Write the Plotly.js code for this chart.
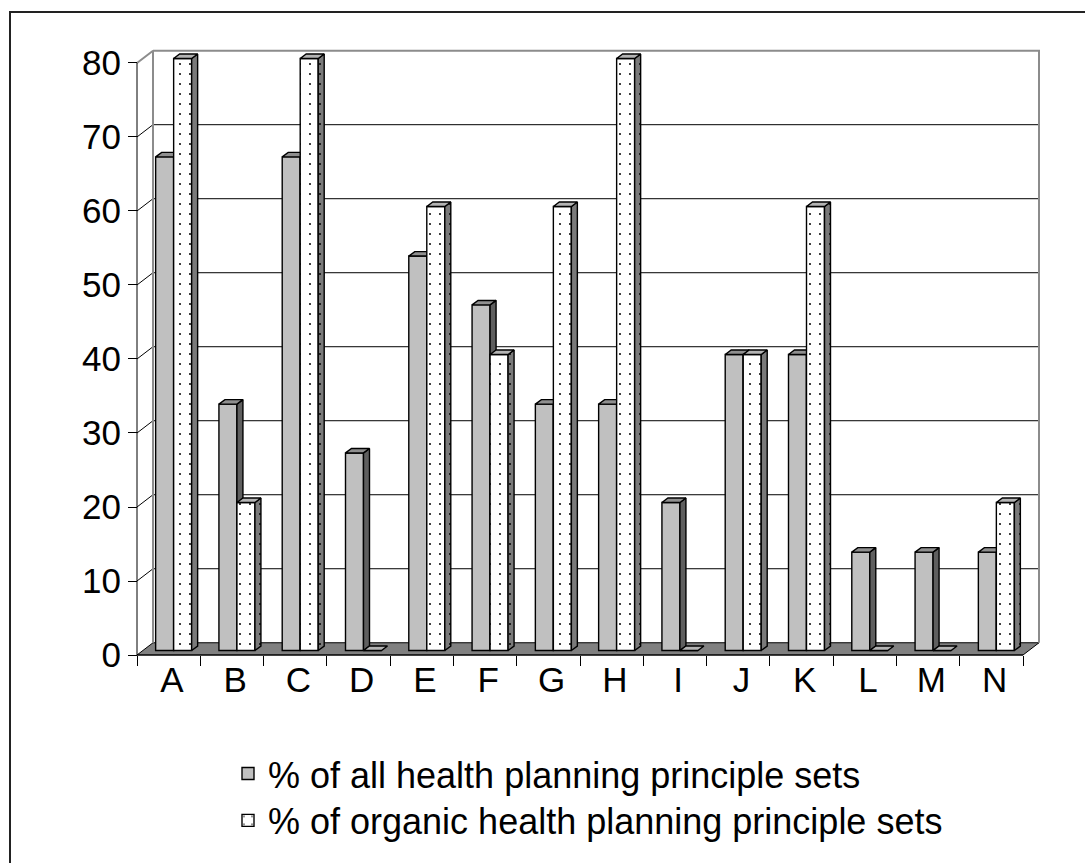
<!DOCTYPE html>
<html>
<head>
<meta charset="utf-8">
<script src="https://cdn.plot.ly/plotly-3.0.1.min.js"></script>
<style>
  html, body { margin: 0; padding: 0; background: #ffffff; }
  #chart { width: 1085px; height: 863px; }
</style>
</head>
<body>
<div id="chart"></div>
<script>
// ---------------- data ----------------
const categories = ['A', 'B', 'C', 'D', 'E', 'F', 'G', 'H', 'I', 'J', 'K', 'L', 'M', 'N'];
const allSets = [66.7, 33.3, 66.7, 26.7, 53.3, 46.7, 33.3, 33.3, 20, 40, 40, 13.3, 13.3, 13.3];
const organicSets = [80, 20, 80, 0, 60, 40, 60, 80, 0, 40, 60, 0, 0, 20];
const yTicks = [0, 10, 20, 30, 40, 50, 60, 70, 80];
const seriesNames = ['% of all health planning principle sets', '% of organic health planning principle sets'];

// ---------------- geometry (pixels -> axis units) ----------------
const W = 1085, H = 863;
const FRONT_L = 137, FRONT_R = 1023, FRONT_Y0 = 657, FRONT_YTOP = 63;
const n = categories.length;
const yMaxVal = 80;
const xu = (FRONT_R - FRONT_L) / n;            // px per category
const yu = (FRONT_Y0 - FRONT_YTOP) / yMaxVal;  // px per value unit
const padL = 2, padR = 20, padT = 14, padB = 3;
const xmin = -0.5 - padL / xu, xmax = n - 0.5 + padR / xu;
const ymin = -padB / yu, ymax = yMaxVal + padT / yu;
const mL = FRONT_L - padL, mR = W - (FRONT_R + padR), mT = FRONT_YTOP - padT, mB = H - (FRONT_Y0 + padB);
const plotW = W - mL - mR, plotH = H - mT - mB;

const WDX = 16 / xu, WDY = 12.3 / yu;   // back wall depth
const BDX = 5 / xu, BDY = 4.5 / yu;     // bar front plane offset
const DDX = 6 / xu, DDY = 4.5 / yu;     // bar depth
const BW = 18 / xu;                      // bar width

const FONT = 'Liberation Sans, Arial, sans-serif';
const TICK_FONT = 35, LEGEND_FONT = 36;

// ---------------- wall & floor ----------------
const x0 = -0.5, x1 = n - 0.5;
const floor = {
  x: [x0, x1, x1 + WDX, x0 + WDX, x0], y: [0, 0, WDY, WDY, 0],
  xaxis: 'x', yaxis: 'y', type: 'scatter', mode: 'lines', fill: 'toself',
  fillcolor: '#808080', line: { color: '#000', width: 1 }, showlegend: false, hoverinfo: 'skip'
};
const gx = [], gy = [];
yTicks.filter(v => v > 0 && v < yMaxVal).forEach(v => {
  gx.push(x0, x0 + WDX, x1 + WDX, null);
  gy.push(v, v + WDY, v + WDY, null);
});
const grid = {
  x: gx, y: gy, xaxis: 'x', yaxis: 'y', type: 'scatter', mode: 'lines',
  line: { color: '#000', width: 1 }, showlegend: false, hoverinfo: 'skip'
};
const wallBorder = {
  x: [x0, x0 + WDX, x0 + WDX, null, x0 + WDX, x1 + WDX, x1 + WDX],
  y: [yMaxVal, yMaxVal + WDY, WDY, null, yMaxVal + WDY, yMaxVal + WDY, WDY],
  xaxis: 'x', yaxis: 'y', type: 'scatter', mode: 'lines',
  line: { color: '#8c8c8c', width: 2 }, showlegend: false, hoverinfo: 'skip'
};
const frontAxis = {
  x: [x0, x0, x1], y: [yMaxVal, 0, 0], xaxis: 'x', yaxis: 'y', type: 'scatter', mode: 'lines',
  line: { color: '#000', width: 1 }, showlegend: false, hoverinfo: 'skip'
};

// ---------------- bars ----------------
function faces(values, left) {
  const sx = [], sy = [], tx = [], ty = [];
  values.forEach((v, i) => {
    const xl = i + BDX + left, xr = xl + BW, b = BDY, t = b + v;
    if (v > 0) {
      sx.push(xr, xr + DDX, xr + DDX, xr, xr, null);
      sy.push(b, b + DDY, t + DDY, t, b, null);
    }
    tx.push(xl, xl + DDX, xr + DDX, xr, xl, null);
    ty.push(t, t + DDY, t + DDY, t, t, null);
  });
  return { sx, sy, tx, ty };
}
const xs = categories.map((c, i) => i + BDX);

function seriesTraces(values, left, ax, ay, name, legendId, front, side, top, dotted) {
  const f = faces(values, left);
  const pattern = dotted ? { shape: '.', fgcolor: '#000', bgcolor: front, size: 10, solidity: 0.03 } : undefined;
  const bar = {
    type: 'bar', x: xs, y: values, base: BDY, offset: left, width: BW,
    xaxis: ax, yaxis: ay, name: name, legend: legendId,
    marker: { color: front, line: { color: '#000', width: 1.4 }, pattern: pattern },
    hoverinfo: 'skip'
  };
  const sideTr = {
    type: 'scatter', x: f.sx, y: f.sy, xaxis: ax, yaxis: ay, mode: 'lines', fill: 'toself',
    fillcolor: side, line: { color: '#000', width: 1.4 }, showlegend: false, hoverinfo: 'skip'
  };
  if (dotted) sideTr.fillpattern = { shape: '.', fgcolor: '#000', bgcolor: side, size: 10, solidity: 0.03 };
  const topTr = {
    type: 'scatter', x: f.tx, y: f.ty, xaxis: ax, yaxis: ay, mode: 'lines', fill: 'toself',
    fillcolor: top, line: { color: '#000', width: 1.4 }, showlegend: false, hoverinfo: 'skip'
  };
  return [bar, sideTr, topTr];
}

const grayTraces = seriesTraces(allSets, -BW, 'x2', 'y2', seriesNames[0], 'legend', '#c0c0c0', '#5f5f5f', '#8f8f8f', false);
const dotTraces = seriesTraces(organicSets, 0, 'x3', 'y3', seriesNames[1], 'legend2', '#ffffff', '#7a7a7a', '#b4b4b4', true);

const data = [floor, grid, wallBorder, frontAxis, ...grayTraces, ...dotTraces];

// ---------------- layout ----------------
const xPosPaper = (0 - ymin) / (ymax - ymin);
const yPosPaper = (x0 - xmin) / (xmax - xmin);
const hidden = { range: [xmin, xmax], visible: false, fixedrange: true };
const px2x = p => (p - mL) / plotW;
const px2y = p => (H - mB - p) / plotH;
const legendBase = {
  xanchor: 'left', yanchor: 'middle', orientation: 'v',
  bgcolor: 'rgba(0,0,0,0)', borderwidth: 0,
  font: { size: LEGEND_FONT, family: FONT, color: '#000' }
};

const layout = {
  width: W, height: H,
  margin: { l: mL, r: mR, t: mT, b: mB, pad: 0 },
  paper_bgcolor: '#ffffff', plot_bgcolor: '#ffffff',
  font: { family: FONT, color: '#000', size: TICK_FONT },
  showlegend: true,
  barmode: 'overlay',
  xaxis: {
    range: [xmin, xmax], tickmode: 'array', tickvals: categories.map((c, i) => i - 0.5).concat([n - 0.5]),
    showticklabels: false, ticks: 'outside', ticklen: 10, tickcolor: '#000', tickwidth: 1,
    anchor: 'free', position: xPosPaper, showgrid: false, zeroline: false, showline: false, fixedrange: true
  },
  xaxis2: {
    overlaying: 'x', range: [xmin, xmax], tickmode: 'array', tickvals: categories.map((c, i) => i + 0.05),
    ticktext: categories, ticks: 'outside', ticklen: 1, tickcolor: 'rgba(0,0,0,0)', ticklabelstandoff: -7,
    tickfont: { size: TICK_FONT, family: FONT, color: '#000' },
    anchor: 'free', position: xPosPaper, showgrid: false, zeroline: false, showline: false, fixedrange: true
  },
  xaxis3: Object.assign({ overlaying: 'x' }, hidden),
  yaxis: {
    range: [ymin, ymax], tickmode: 'array', tickvals: yTicks,
    ticks: 'outside', ticklen: 9, tickcolor: '#000', tickwidth: 1,
    tickfont: { size: TICK_FONT, family: FONT, color: '#000' },
    anchor: 'free', position: yPosPaper, showgrid: false, zeroline: false, showline: false, fixedrange: true
  },
  yaxis2: { overlaying: 'y', range: [ymin, ymax], visible: false, fixedrange: true },
  yaxis3: { overlaying: 'y', range: [ymin, ymax], visible: false, fixedrange: true },
  legend: Object.assign({ x: px2x(228), y: px2y(776) }, legendBase),
  legend2: Object.assign({ x: px2x(228), y: px2y(823) }, legendBase),
  shapes: [{
    type: 'rect', xref: 'paper', yref: 'paper',
    x0: px2x(10), x1: px2x(1200), y0: px2y(1000), y1: px2y(12),
    line: { color: '#222', width: 2 }, fillcolor: 'rgba(0,0,0,0)'
  }]
};

Plotly.newPlot('chart', data, layout, { staticPlot: true, displayModeBar: false });
</script>
</body>
</html>
